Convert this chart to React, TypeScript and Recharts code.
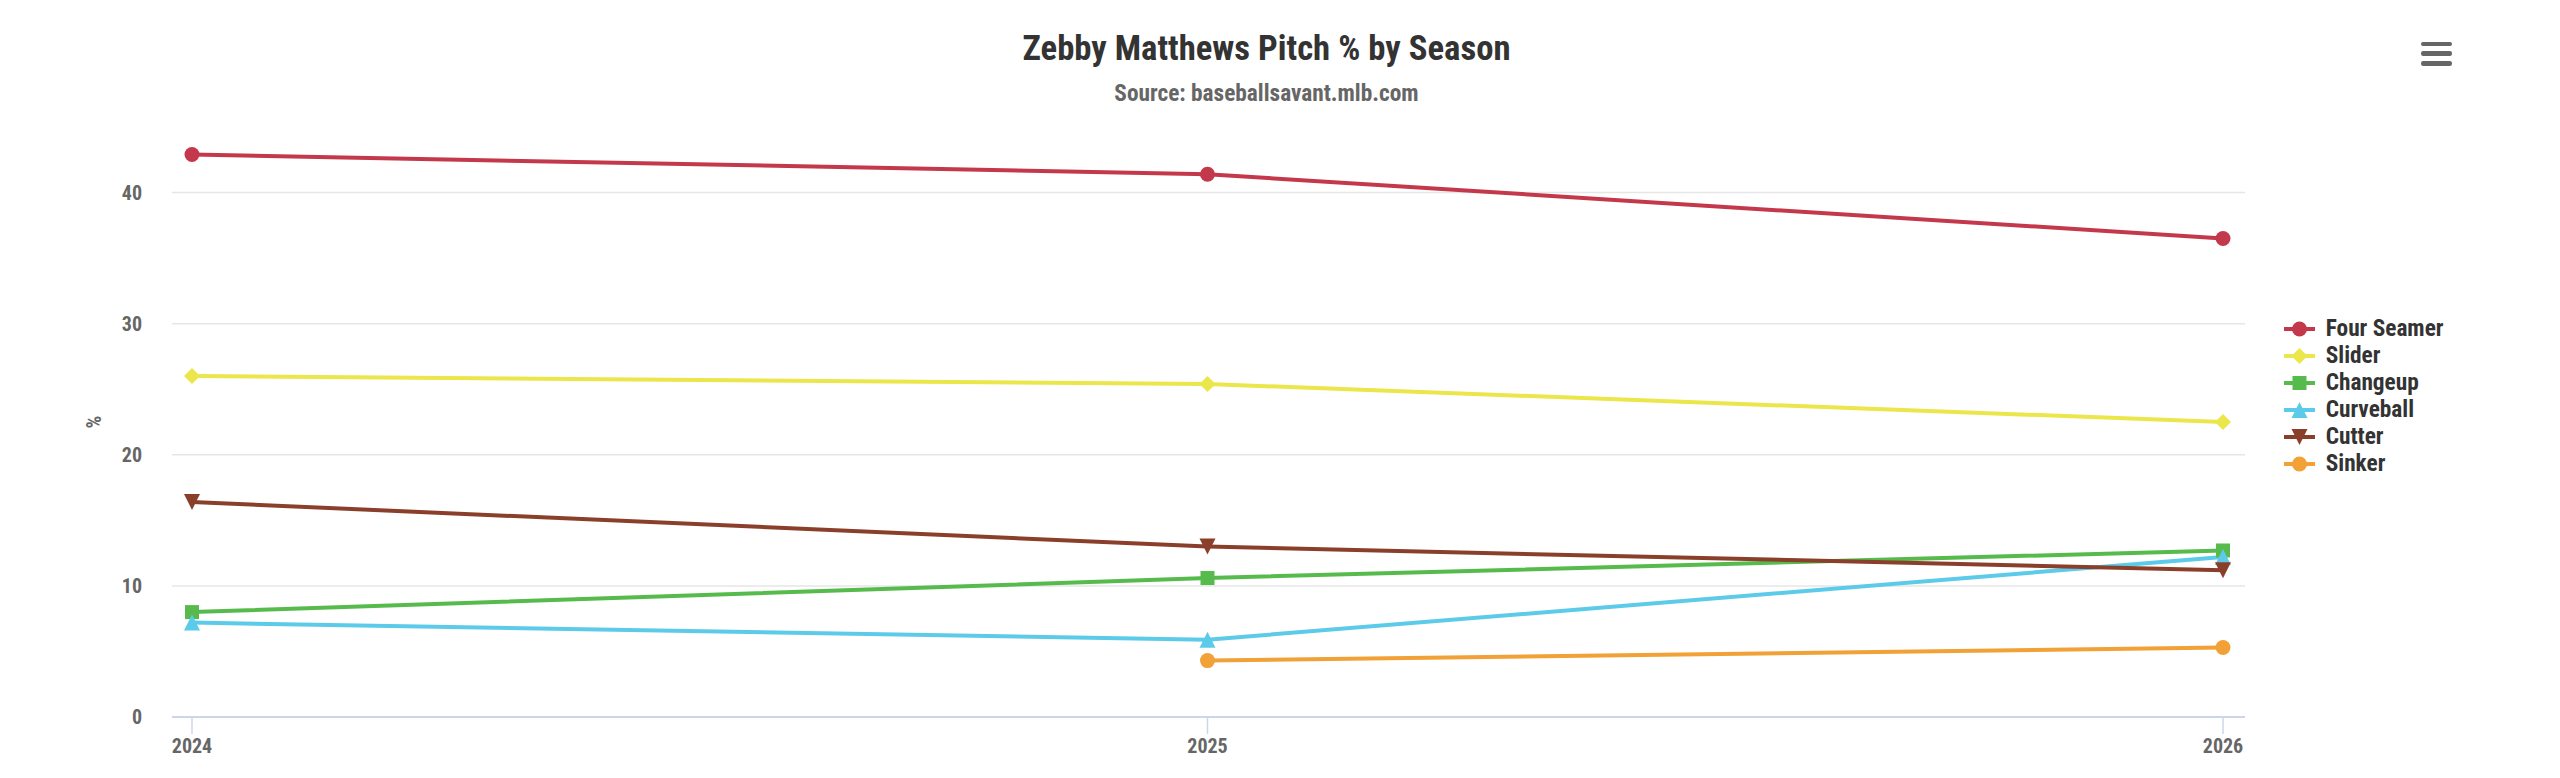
import React from "react";
import { LineChart, Line, XAxis, YAxis, CartesianGrid, Legend } from "recharts";

const FONT = "'Roboto Condensed', 'Liberation Sans Narrow', 'DejaVu Sans Condensed', Roboto, sans-serif";

// seasons + pitch usage (%)
const seasons = [2024, 2025, 2026];
const fourSeamer = [42.9, 41.4, 36.5];
const slider = [26.0, 25.4, 22.5];
const changeup = [8.0, 10.6, 12.7];
const curveball = [7.2, 5.9, 12.2];
const cutter = [16.4, 13.0, 11.2];
const sinker = [null, 4.3, 5.3];
const yTicks = [0, 10, 20, 30, 40];

type Shape = "circle" | "diamond" | "square" | "triangle" | "triangle-down";

const series: { key: string; name: string; color: string; shape: Shape; values: (number | null)[] }[] = [
  { key: "fourSeamer", name: "Four Seamer", color: "#c3394b", shape: "circle", values: fourSeamer },
  { key: "slider", name: "Slider", color: "#ebe64a", shape: "diamond", values: slider },
  { key: "changeup", name: "Changeup", color: "#56bb4c", shape: "square", values: changeup },
  { key: "curveball", name: "Curveball", color: "#5ccbea", shape: "triangle", values: curveball },
  { key: "cutter", name: "Cutter", color: "#8a3f2b", shape: "triangle-down", values: cutter },
  { key: "sinker", name: "Sinker", color: "#f1a136", shape: "circle", values: sinker },
];

const data = seasons.map((season, i) => {
  const row: any = { season };
  series.forEach(s => { row[s.key] = s.values[i]; });
  return row;
});

const Marker = ({ shape, cx, cy, color }: { shape: Shape; cx: number; cy: number; color: string }) => {
  const r = 8;
  switch (shape) {
    case "circle":
      return <circle cx={cx} cy={cy} r={7.5} fill={color} />;
    case "diamond":
      return <path d={`M${cx},${cy - r}L${cx + r},${cy}L${cx},${cy + r}L${cx - r},${cy}Z`} fill={color} />;
    case "square":
      return <rect x={cx - 7} y={cy - 7} width={14} height={14} fill={color} />;
    case "triangle":
      return <path d={`M${cx},${cy - r}L${cx + r},${cy + r}L${cx - r},${cy + r}Z`} fill={color} />;
    default:
      return <path d={`M${cx - r},${cy - r}L${cx + r},${cy - r}L${cx},${cy + r}Z`} fill={color} />;
  }
};

const makeDot = (shape: Shape, color: string) => (props: any) => {
  const { cx, cy, index, value } = props;
  if (value == null || cx == null || cy == null) return <g key={`d-${index}`} />;
  return <Marker key={`d-${index}`} shape={shape} cx={cx} cy={cy} color={color} />;
};

const LegendContent = () => (
  <div style={{ fontFamily: FONT }}>
    {series.map(s => (
      <div key={s.key} style={{ display: "flex", alignItems: "center", height: 27, lineHeight: "27px" }}>
        <svg width={40} height={20} style={{ display: "block" }}>
          <line x1={4} x2={35} y1={10} y2={10} stroke={s.color} strokeWidth={4} />
          <Marker shape={s.shape} cx={19.5} cy={10} color={s.color} />
        </svg>
        <span style={{ marginLeft: 5.7, fontSize: 23.3, fontWeight: 700, color: "#333333" }}>{s.name}</span>
      </div>
    ))}
  </div>
);

export default function App() {
  const tickStyle = { fill: "#666666", fontSize: 20, fontWeight: 700, fontFamily: FONT };
  return (
    <div style={{ position: "absolute", left: 0, top: 0, width: 2560, height: 778, background: "#fff", fontFamily: FONT }}>
      <div style={{ position: "absolute", left: 0, top: 30.5, width: 2533, textAlign: "center", fontSize: 34.7, lineHeight: "34.7px", fontWeight: 700, color: "#333333" }}>
        Zebby Matthews Pitch % by Season
      </div>
      <div style={{ position: "absolute", left: 0, top: 81.5, width: 2533, textAlign: "center", fontSize: 23.3, lineHeight: "23.3px", fontWeight: 700, color: "#666666" }}>
        Source: baseballsavant.mlb.com
      </div>
      {[44, 53.7, 63.4].map(y => (
        <div key={y} style={{ position: "absolute", left: 2421, top: y - 2.25, width: 31, height: 4.5, borderRadius: 2.25, background: "#666666" }} />
      ))}
      <LineChart width={2560} height={778} data={data} margin={{ top: 127, right: 315, bottom: 11, left: 0 }}>
        <CartesianGrid vertical={false} stroke="#e6e6e6" strokeWidth={1.5} syncWithTicks />
        <XAxis
          dataKey="season" type="number" domain={[2024, 2026]} ticks={seasons}
          padding={{ left: 20, right: 22 }} height={50}
          axisLine={{ stroke: "#ccd6eb", strokeWidth: 2 }}
          tickLine={{ stroke: "#ccd6eb", strokeWidth: 1.5 }}
          tickSize={17} tickMargin={5} tick={tickStyle}
        />
        <YAxis
          domain={[0, 45]} ticks={yTicks} width={172}
          axisLine={false} tickLine={false} tickSize={0} tickMargin={30} tick={tickStyle}
          label={{ value: "%", angle: -90, position: "insideLeft", offset: 94,
            style: { textAnchor: "middle", fill: "#666666", fontSize: 20, fontWeight: 700, fontFamily: FONT } }}
        />
        <Legend
          layout="vertical" align="center" verticalAlign="middle"
          wrapperStyle={{ left: 2280, top: 315, width: 240 }}
          content={<LegendContent />}
        />
        {series.map(s => (
          <Line
            key={s.key} dataKey={s.key} name={s.name} type="linear"
            stroke={s.color} strokeWidth={4}
            dot={makeDot(s.shape, s.color)} activeDot={false}
            isAnimationActive={false}
          />
        ))}
      </LineChart>
    </div>
  );
}
